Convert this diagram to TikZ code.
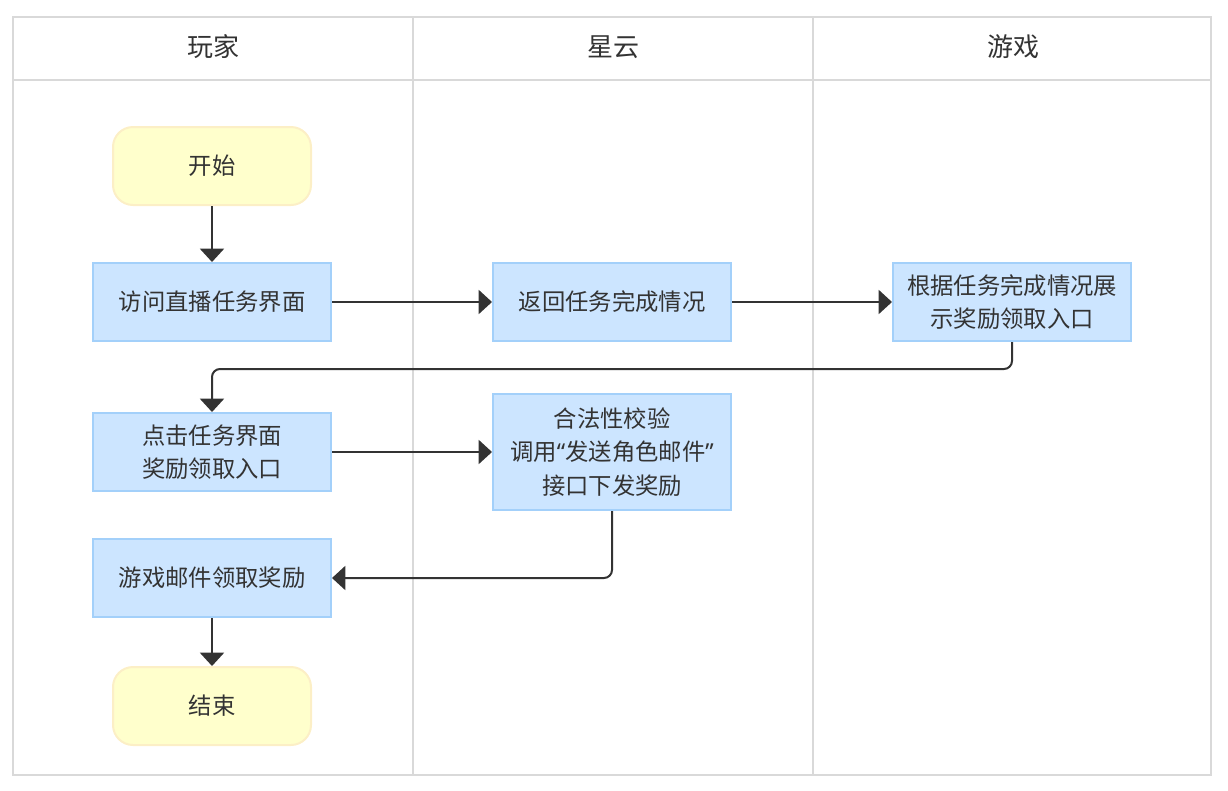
\documentclass[tikz,border=0pt]{standalone}
\usepackage{fontspec}
\setmainfont{Noto Sans CJK SC}
\newfontfamily\quotefont{Noto Sans}
\usetikzlibrary{arrows.meta}
\definecolor{lanegray}{HTML}{D9D9D9}
\definecolor{stepfill}{HTML}{CCE5FF}
\definecolor{stepline}{HTML}{A3D0FA}
\definecolor{endfill}{HTML}{FFFFCC}
\definecolor{endline}{HTML}{FCEFC6}
\definecolor{ink}{HTML}{333333}
\begin{document}
\begin{tikzpicture}[x=0.75pt,y=-0.75pt,
  stepbox/.style={draw=stepline,fill=stepfill,line width=1.5pt,minimum width=178.5pt,minimum height=58.5pt,
    inner sep=0pt,align=center,font=\fontsize{17.5}{25}\selectfont,text=ink},
  termbox/.style={draw=endline,fill=endfill,line width=1.5pt,rounded corners=15pt,minimum width=148.5pt,
    minimum height=58.5pt,inner sep=0pt,font=\fontsize{17.5}{25}\selectfont,text=ink},
  lanehead/.style={font=\fontsize{19.5}{24}\selectfont,text=ink},
  flow/.style={draw=ink,line width=1.5pt,-{Triangle[width=18pt,length=10pt]},rounded corners=6pt}]
\useasboundingbox (0,0) rectangle (1228,790);
% swimlanes
\draw [lanegray,line width=1.5pt] (13,17) rectangle (1211,775);
\draw [lanegray,line width=1.5pt] (13,80) -- (1211,80);
\draw [lanegray,line width=1.5pt] (413,17) -- (413,775);
\draw [lanegray,line width=1.5pt] (813,17) -- (813,775);
\node [lanehead] (player) at (213,47) {玩家};
\node [lanehead] (nebula) at (613,47) {星云};
\node [lanehead] (game) at (1013,47) {游戏};
% steps
\node [termbox] (start) at (212,166) {开始};
\node [stepbox] (visit) at (212,302) {访问直播任务界面};
\node [stepbox] (report) at (612,302) {返回任务完成情况};
\node [stepbox] (show) at (1012,302) {根据任务完成情况展\\示奖励领取入口};
\node [stepbox] (click) at (212,452) {点击任务界面\\奖励领取入口};
\node [stepbox,minimum height=87pt] (check) at (612,452)
  {合法性校验\\调用{\quotefont“}发送角色邮件{\quotefont”}\\接口下发奖励};
\node [stepbox] (mail) at (212,578) {游戏邮件领取奖励};
\node [termbox] (finish) at (212,706) {结束};
% connectors
\draw [flow] (start) -- (visit);
\draw [flow] (visit) -- (report);
\draw [flow] (report) -- (show);
\draw [flow] (show.south) -- (1012,369) -- (212,369) -- (click.north);
\draw [flow] (click) -- (check);
\draw [flow] (check.south) -- (612,578) -- (mail.east);
\draw [flow] (mail) -- (finish);
\end{tikzpicture}
\end{document}
